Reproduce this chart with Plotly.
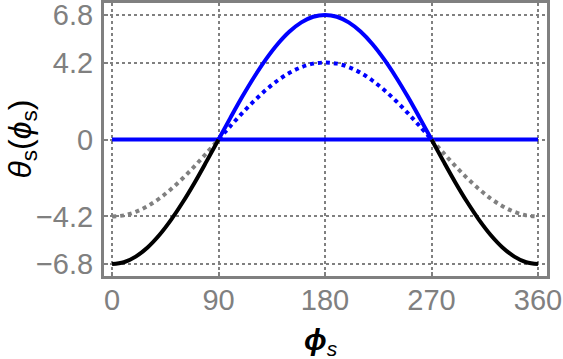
import plotly.graph_objects as go

# angles in degrees (phi_s)
phi_left = [0, 10, 20, 30, 40, 50, 60, 70, 80, 90]
phi_mid = [90, 100, 110, 120, 130, 140, 150, 160, 170, 180,
           190, 200, 210, 220, 230, 240, 250, 260, 270]
phi_right = [270, 280, 290, 300, 310, 320, 330, 340, 350, 360]
phi_full = [0, 360]

# values
theta_big_left = [-6.8, -6.70, -6.39, -5.89, -5.21, -4.37, -3.40, -2.33, -1.18, 0.0]
theta_big_mid = [0.0, 1.18, 2.33, 3.40, 4.37, 5.21, 5.89, 6.39, 6.70, 6.8,
                 6.70, 6.39, 5.89, 5.21, 4.37, 3.40, 2.33, 1.18, 0.0]
theta_big_right = [0.0, -1.18, -2.33, -3.40, -4.37, -5.21, -5.89, -6.39, -6.70, -6.8]

theta_small_left = [-4.2, -4.14, -3.95, -3.64, -3.22, -2.70, -2.10, -1.44, -0.73, 0.0]
theta_small_mid = [0.0, 0.73, 1.44, 2.10, 2.70, 3.22, 3.64, 3.95, 4.14, 4.2,
                   4.14, 3.95, 3.64, 3.22, 2.70, 2.10, 1.44, 0.73, 0.0]
theta_small_right = [0.0, -0.73, -1.44, -2.10, -2.70, -3.22, -3.64, -3.95, -4.14, -4.2]

theta_zero = [0.0, 0.0]

x_ticks = [0, 90, 180, 270, 360]
y_ticks = [-6.8, -4.2, 0, 4.2, 6.8]
y_tick_text = ["\u22126.8", "\u22124.2", "0", "4.2", "6.8"]

BLUE = "rgb(0,0,255)"
GRAY = "rgb(128,128,128)"
FONT = "Liberation Sans, Arial, sans-serif"

fig = go.Figure()

# zero line (blue, across the whole range)
fig.add_trace(go.Scatter(x=phi_full, y=theta_zero, mode="lines",
                         line=dict(color=BLUE, width=4)))

# dotted curves
for xs, ys, col in [(phi_left, theta_small_left, GRAY),
                    (phi_right, theta_small_right, GRAY),
                    (phi_mid, theta_small_mid, BLUE)]:
    fig.add_trace(go.Scatter(x=xs, y=ys, mode="lines",
                             line=dict(color=col, width=4, dash="4px,4px", shape="spline")))

# solid curves
for xs, ys, col in [(phi_left, theta_big_left, "black"),
                    (phi_right, theta_big_right, "black"),
                    (phi_mid, theta_big_mid, BLUE)]:
    fig.add_trace(go.Scatter(x=xs, y=ys, mode="lines",
                             line=dict(color=col, width=4, shape="spline")))

axis_common = dict(
    showline=True, linecolor=GRAY, linewidth=3, mirror=True,
    showgrid=True, gridcolor=GRAY, gridwidth=1.5, griddash="dot",
    zeroline=False, ticks="inside", ticklen=4, tickwidth=1.5, tickcolor=GRAY,
    tickfont=dict(family=FONT, size=29, color=GRAY),
    automargin=False, ticklabeloverflow="allow",
)

fig.update_xaxes(range=[-6.8, 367.6], tickvals=x_ticks, ticklabelstandoff=-4,
                 **axis_common)
fig.update_yaxes(range=[-7.45, 7.45], tickvals=y_ticks, ticktext=y_tick_text,
                 ticklabelstandoff=2, **axis_common)

# axis titles as annotations
fig.add_annotation(text="<b><i>\u03d5</i></b><sub><i>s</i></sub>",
                   xref="paper", yref="paper", x=0.49, y=-0.24,
                   showarrow=False, xanchor="center", yanchor="middle",
                   font=dict(family=FONT, size=30, color="black"))
fig.add_annotation(text="<i>\u03b8</i><sub>s</sub>(<i>\u03d5</i><sub>s</sub>)",
                   xref="paper", yref="paper", x=-0.185, y=0.5,
                   showarrow=False, textangle=-90, xanchor="center", yanchor="middle",
                   font=dict(family=FONT, size=32, color="black"))

fig.update_layout(
    width=563, height=359,
    margin=dict(l=104, r=16, t=3, b=83),
    plot_bgcolor="white", paper_bgcolor="white",
    showlegend=False,
)

# drop the browser's default body margin so the figure sits at (0, 0)
fig.write_html("out.html", config={"displayModeBar": False},
               post_script="document.body.style.margin='0';")
